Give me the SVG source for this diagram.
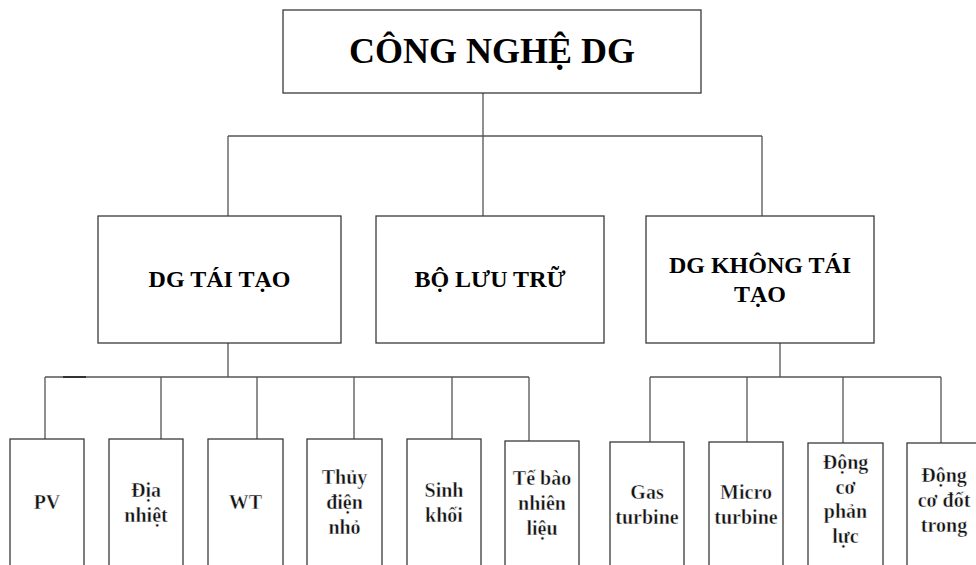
<svg xmlns="http://www.w3.org/2000/svg" width="976" height="565" viewBox="0 0 976 565">
  <style>
    .box { fill: #ffffff; stroke: #3a3a3a; stroke-width: 1.3; }
    .wire { fill: none; stroke: #555555; stroke-width: 1.3; }
    text { fill: #000; text-anchor: middle; }
    .title { font-weight: bold; font-size: 36px; }
    .head { font-weight: bold; font-size: 24px; }
    /* leaf labels: serif face, outline trimmed slightly with a thin white stroke for a lighter weight */
    .leaf { font-size: 20px; font-weight: bold; fill: #111; stroke: #ffffff; stroke-width: 0.4px; }
  </style>
  <rect width="976" height="565" fill="#ffffff"/>

  <!-- connectors -->
  <g id="connectors">
    <path class="wire" d="M483 93 V216 M228 136 H762 M228 136 V216 M762 136 V216"/>
    <path class="wire" d="M228 343 V377 M45 377 H529 M45 377 V439 M161 377 V439 M257 377 V439 M354 377 V439 M452 377 V439 M529 377 V441"/>
    <path d="M63 377 H86" stroke="#2a2a2a" stroke-width="1.8"/>
    <path class="wire" d="M780 343 V377 M650 377 H941 M650 377 V442 M747 377 V442 M843 377 V443 M941 377 V443"/>
  </g>

  <g font-family="Liberation Serif, Times New Roman, serif">
  <g id="cong-nghe-dg">
    <rect class="box" x="283" y="10" width="418" height="83"/>
    <text class="title" x="492" y="63">CÔNG NGHỆ DG</text>
  </g>

  <g id="dg-tai-tao">
    <rect class="box" x="98" y="216" width="243" height="127"/>
    <text class="head" x="219.5" y="287">DG TÁI TẠO</text>
  </g>
  <g id="bo-luu-tru">
    <rect class="box" x="376" y="216" width="228" height="127"/>
    <text class="head" x="490" y="287">BỘ LƯU TRỮ</text>
  </g>
  <g id="dg-khong-tai-tao">
    <rect class="box" x="646" y="216" width="228" height="127"/>
    <text class="head" x="760" y="273">DG KHÔNG TÁI</text>
    <text class="head" x="760" y="302">TẠO</text>
  </g>

  <g id="pv">
    <rect class="box" x="10" y="439" width="74" height="140"/>
    <text class="leaf" x="47" y="509">PV</text>
  </g>
  <g id="dia-nhiet">
    <rect class="box" x="109" y="439" width="74" height="140"/>
    <text class="leaf" x="146" y="496.5">Địa</text>
    <text class="leaf" x="146" y="521.5">nhiệt</text>
  </g>
  <g id="wt">
    <rect class="box" x="208" y="439" width="75" height="140"/>
    <text class="leaf" x="245.5" y="509">WT</text>
  </g>
  <g id="thuy-dien-nho">
    <rect class="box" x="307" y="439" width="75" height="140"/>
    <text class="leaf" x="344.5" y="484">Thủy</text>
    <text class="leaf" x="344.5" y="509">điện</text>
    <text class="leaf" x="344.5" y="534">nhỏ</text>
  </g>
  <g id="sinh-khoi">
    <rect class="box" x="407" y="439" width="74" height="140"/>
    <text class="leaf" x="444" y="496.5">Sinh</text>
    <text class="leaf" x="444" y="521.5">khối</text>
  </g>
  <g id="te-bao-nhien-lieu">
    <rect class="box" x="505" y="441" width="74" height="140"/>
    <text class="leaf" x="542" y="485">Tế bào</text>
    <text class="leaf" x="542" y="510">nhiên</text>
    <text class="leaf" x="542" y="535">liệu</text>
  </g>

  <g id="gas-turbine">
    <rect class="box" x="610" y="442" width="74" height="140"/>
    <text class="leaf" x="647" y="498.5">Gas</text>
    <text class="leaf" x="647" y="523.5">turbine</text>
  </g>
  <g id="micro-turbine">
    <rect class="box" x="709" y="442" width="74" height="140"/>
    <text class="leaf" x="746" y="498.5">Micro</text>
    <text class="leaf" x="746" y="523.5">turbine</text>
  </g>
  <g id="dong-co-phan-luc">
    <rect class="box" x="808" y="443" width="75" height="140"/>
    <text class="leaf" x="845.5" y="469">Động</text>
    <text class="leaf" x="845.5" y="493.5">cơ</text>
    <text class="leaf" x="845.5" y="518">phản</text>
    <text class="leaf" x="845.5" y="542.5">lực</text>
  </g>
  <g id="dong-co-dot-trong">
    <rect class="box" x="907" y="443" width="74" height="140"/>
    <text class="leaf" x="944" y="482">Động</text>
    <text class="leaf" x="944" y="507">cơ đốt</text>
    <text class="leaf" x="944" y="532">trong</text>
  </g>
  </g>
</svg>
